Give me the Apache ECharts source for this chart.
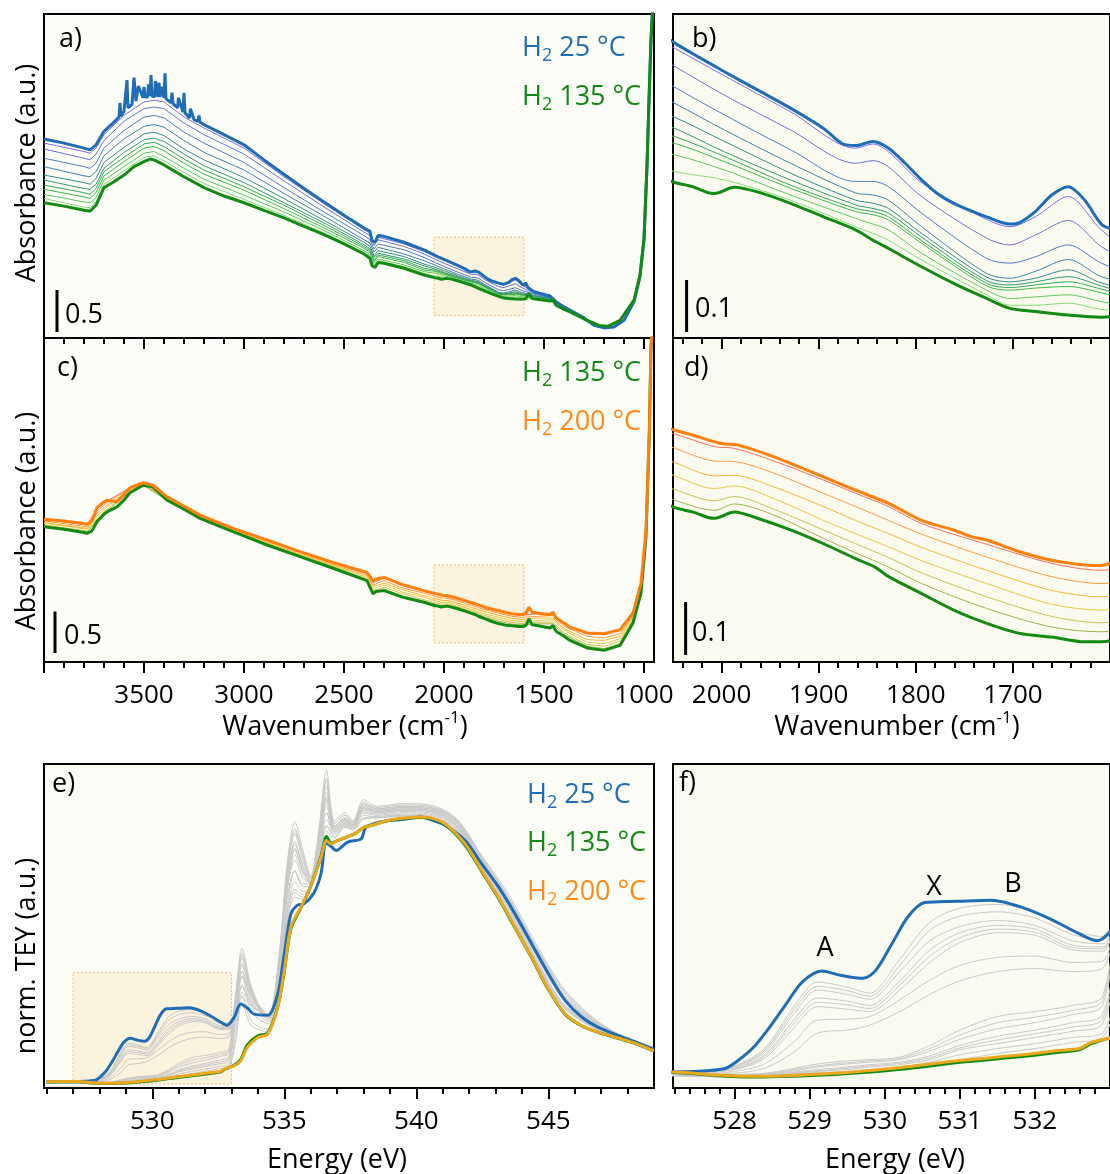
<!DOCTYPE html>
<html><head><meta charset="utf-8">
<script src="https://cdn.jsdelivr.net/npm/echarts@6/dist/echarts.min.js"></script>
<style>html,body{margin:0;padding:0;background:#fff}#c{width:1110px;height:1174px}</style>
</head><body><div id="c"></div>
<script>
// ---------- Panels a/b : H2 25 °C -> 135 °C (absorbance) ----------
const WN_AB_BLUE = [4000,3900,3800,3770,3740,3700,3650,3625,3620,3615,3600,3590,3585,3580,3560,3550,3540,3532,3528,3505,3500,3495,3482,3478,3470,3465,3460,3447,3443,3430,3425,3420,3412,3408,3400,3395,3390,3365,3360,3355,3332,3328,3305,3300,3295,3272,3268,3250,3230,3225,3220,3200,
 3100,3000,2900,2800,2700,2600,2500,2400,2370,2360,2345,2330,2300,2200,2100,2048,2030,1997,1963,1929,1895,1875,1862,1844,1828,1811,1794,1778,1761,1727,1703,1693,1677,1660,1643,1626,1609,1598,1592,1580,1550,1470,1460,1440,1400,1300,1250,1200,1150,1100,1050,1020,1000,985,975,965,955];
const ABS_AB_BLUE = [2.37,2.32,2.26,2.24,2.30,2.46,2.57,2.63,2.80,2.64,2.70,2.72,3.07,2.74,2.78,3.10,2.82,2.84,3.00,2.86,2.99,2.87,2.87,3.02,2.88,3.13,2.88,2.87,3.06,2.87,3.04,2.87,2.86,2.99,2.86,3.15,2.85,2.80,2.92,2.79,2.74,2.86,2.69,2.92,2.68,2.62,2.73,2.60,2.58,2.65,2.57,2.54,
 2.42,2.30,2.12,1.95,1.78,1.62,1.46,1.31,1.27,1.16,1.14,1.22,1.21,1.14,1.05,0.987,0.967,0.932,0.897,0.862,0.823,0.793,0.790,0.798,0.785,0.756,0.724,0.698,0.679,0.653,0.639,0.642,0.663,0.695,0.711,0.685,0.639,0.63,0.66,0.60,0.55,0.50,0.49,0.43,0.37,0.24,0.15,0.12,0.13,0.21,0.43,0.73,1.17,2.04,2.83,3.55,4.0];
const WN_AB_GREEN = [4000,3900,3800,3770,3740,3700,3650,3600,3550,3500,3470,3450,3400,3350,3300,3200,3100,3000,2900,2800,2700,2600,2500,2400,2370,2360,2345,2330,2300,2200,2100,2048,2030,2013,2007,1987,1963,1929,1895,1862,1844,1828,1794,1761,1727,1703,1677,1643,1609,1590,1575,1560,1535,1470,1455,1440,1400,1370,1285,1225,1180,1120,1050,1020,1000,985,975,965,955];
const ABS_AB_GREEN = [1.61,1.57,1.52,1.51,1.58,1.79,1.86,1.94,2.04,2.10,2.13,2.12,2.06,1.99,1.92,1.79,1.69,1.61,1.52,1.43,1.33,1.23,1.12,1.00,0.95,0.86,0.84,0.90,0.89,0.83,0.75,0.719,0.711,0.699,0.698,0.710,0.701,0.679,0.653,0.628,0.608,0.592,0.557,0.525,0.496,0.477,0.471,0.464,0.460,0.47,0.53,0.47,0.46,0.44,0.45,0.39,0.34,0.31,0.21,0.15,0.14,0.21,0.45,0.75,1.18,2.05,2.83,3.55,4.0];
const WN_AB_THIN = [4000,3800,3770,3740,3700,3600,3500,3450,3400,3300,3200,3000,2800,2600,2400,2370,2350,2330,2200,2100,2048,1997,1929,1862,1844,1828,1794,1727,1703,1677,1643,1609,1550,1460,1400,1300,1200,1100];
const ABS_AB_THIN = [
 [2.32,2.22,2.20,2.26,2.42,2.65,2.81,2.83,2.81,2.63,2.50,2.26,1.92,1.60,1.29,1.25,1.13,1.20,1.12,1.03,0.977,0.924,0.855,0.785,0.793,0.778,0.719,0.648,0.634,0.653,0.692,0.628,0.545,0.487,0.368,0.238,0.125,0.21],
 [2.25,2.14,2.12,2.19,2.35,2.58,2.73,2.75,2.73,2.56,2.42,2.19,1.87,1.56,1.26,1.22,1.10,1.17,1.09,1.00,0.942,0.887,0.82,0.756,0.761,0.749,0.692,0.612,0.599,0.618,0.646,0.596,0.536,0.482,0.365,0.237,0.126,0.21],
 [2.14,2.04,2.02,2.08,2.26,2.47,2.63,2.65,2.62,2.45,2.32,2.09,1.79,1.50,1.22,1.17,1.06,1.12,1.05,0.96,0.902,0.849,0.782,0.721,0.721,0.711,0.66,0.573,0.564,0.576,0.599,0.564,0.523,0.475,0.361,0.236,0.127,0.21],
 [2.04,1.93,1.92,1.98,2.17,2.37,2.52,2.54,2.51,2.35,2.21,2.00,1.72,1.45,1.17,1.13,1.02,1.08,1.00,0.92,0.871,0.82,0.756,0.699,0.695,0.685,0.634,0.544,0.535,0.548,0.571,0.538,0.51,0.468,0.357,0.235,0.128,0.21],
 [1.94,1.85,1.83,1.90,2.09,2.27,2.43,2.45,2.41,2.25,2.12,1.91,1.66,1.40,1.14,1.09,0.98,1.04,0.97,0.88,0.844,0.798,0.737,0.685,0.679,0.669,0.621,0.537,0.528,0.535,0.551,0.526,0.50,0.462,0.353,0.234,0.129,0.21],
 [1.88,1.78,1.77,1.83,2.02,2.21,2.36,2.38,2.34,2.19,2.05,1.85,1.61,1.37,1.11,1.06,0.96,1.01,0.94,0.86,0.823,0.778,0.724,0.676,0.669,0.66,0.614,0.53,0.522,0.528,0.538,0.52,0.49,0.457,0.35,0.233,0.13,0.21],
 [1.82,1.73,1.71,1.78,1.98,2.15,2.31,2.33,2.28,2.13,2.00,1.80,1.58,1.34,1.09,1.04,0.93,0.99,0.92,0.83,0.807,0.769,0.714,0.669,0.663,0.653,0.607,0.525,0.517,0.522,0.528,0.514,0.485,0.454,0.348,0.233,0.132,0.21],
 [1.77,1.68,1.66,1.73,1.93,2.10,2.26,2.28,2.23,2.08,1.95,1.76,1.54,1.31,1.07,1.02,0.91,0.97,0.90,0.81,0.794,0.759,0.708,0.663,0.657,0.647,0.602,0.52,0.512,0.516,0.519,0.507,0.48,0.45,0.346,0.232,0.134,0.21],
 [1.71,1.62,1.61,1.67,1.88,2.04,2.20,2.22,2.16,2.02,1.89,1.70,1.50,1.28,1.04,0.99,0.89,0.94,0.87,0.79,0.772,0.743,0.695,0.65,0.639,0.628,0.583,0.512,0.496,0.499,0.503,0.49,0.47,0.446,0.344,0.231,0.136,0.21],
 [1.66,1.56,1.55,1.62,1.83,1.99,2.15,2.17,2.11,1.97,1.84,1.65,1.46,1.25,1.02,0.97,0.87,0.92,0.85,0.77,0.74,0.724,0.685,0.634,0.621,0.608,0.57,0.503,0.483,0.483,0.487,0.475,0.465,0.443,0.342,0.23,0.138,0.21]
];
// ---------- Panels c/d : H2 135 °C -> 200 °C ----------
const WN_CD_ORANGE = [4000,3900,3800,3785,3760,3735,3700,3685,3660,3635,3600,3570,3505,3455,3385,3300,3220,3055,2885,2720,2555,2385,2370,2355,2340,2300,2205,2100,2048,2030,2000,1983,1946,1895,1862,1828,1794,1761,1744,1727,1693,1660,1626,1609,1590,1575,1560,1535,1470,1455,1440,1400,1370,1285,1200,1120,1055,1015,990,973,965,955];
const ABS_CD_ORANGE = [1.72,1.70,1.67,1.66,1.70,1.86,1.93,1.95,1.94,1.93,2.02,2.10,2.16,2.13,1.99,1.88,1.77,1.61,1.47,1.33,1.20,1.08,1.03,0.97,1.00,1.02,0.93,0.86,0.827,0.818,0.802,0.799,0.777,0.739,0.714,0.689,0.657,0.639,0.627,0.620,0.598,0.582,0.573,0.572,0.59,0.66,0.60,0.59,0.57,0.60,0.53,0.47,0.42,0.35,0.34,0.39,0.59,0.95,1.59,2.80,3.80,4.1];
const WN_CD_GREEN = [4000,3900,3800,3785,3760,3735,3700,3685,3635,3600,3570,3505,3455,3385,3300,3220,3055,2885,2720,2555,2385,2370,2355,2340,2300,2205,2100,2048,2030,2013,2007,1987,1963,1929,1895,1862,1842,1828,1794,1761,1727,1693,1660,1626,1609,1590,1575,1560,1535,1470,1455,1440,1400,1370,1285,1200,1120,1055,1015,990,973,965,955];
const ABS_CD_GREEN = [1.63,1.60,1.56,1.55,1.58,1.69,1.78,1.81,1.87,1.95,2.04,2.13,2.11,1.95,1.84,1.73,1.57,1.41,1.27,1.13,0.98,0.90,0.82,0.85,0.86,0.78,0.72,0.681,0.673,0.662,0.661,0.673,0.661,0.639,0.613,0.585,0.569,0.551,0.519,0.488,0.463,0.444,0.437,0.428,0.428,0.44,0.52,0.45,0.44,0.41,0.44,0.37,0.31,0.26,0.17,0.14,0.20,0.47,0.83,1.51,2.80,3.80,4.1];
const WN_CD_THIN = [4000,3785,3735,3685,3570,3505,3385,3220,3055,2885,2720,2555,2385,2355,2300,2205,2100,2048,2007,1987,1946,1895,1862,1828,1794,1727,1660,1609,1535,1455,1400,1285,1200,1120,1055,1015];
const ABS_CD_THIN = [
 [1.72,1.65,1.85,1.94,2.10,2.16,1.99,1.77,1.61,1.47,1.33,1.20,1.08,0.96,1.01,0.92,0.85,0.820,0.796,0.793,0.769,0.733,0.708,0.683,0.651,0.612,0.576,0.563,0.58,0.59,0.46,0.34,0.33,0.38,0.58,0.94],
 [1.70,1.63,1.82,1.92,2.09,2.15,1.98,1.76,1.60,1.46,1.32,1.18,1.06,0.93,0.98,0.89,0.83,0.793,0.769,0.768,0.746,0.708,0.683,0.657,0.631,0.588,0.551,0.538,0.55,0.56,0.43,0.31,0.29,0.34,0.56,0.92],
 [1.68,1.61,1.79,1.89,2.07,2.15,1.97,1.75,1.59,1.44,1.30,1.17,1.04,0.91,0.95,0.87,0.80,0.766,0.741,0.742,0.720,0.683,0.657,0.632,0.606,0.563,0.525,0.513,0.53,0.53,0.40,0.27,0.26,0.31,0.54,0.90],
 [1.67,1.60,1.76,1.87,2.06,2.14,1.97,1.75,1.59,1.43,1.29,1.16,1.02,0.88,0.93,0.84,0.78,0.741,0.717,0.722,0.698,0.657,0.632,0.607,0.581,0.538,0.499,0.488,0.50,0.51,0.38,0.24,0.22,0.28,0.52,0.88],
 [1.65,1.58,1.73,1.84,2.05,2.14,1.96,1.74,1.58,1.42,1.28,1.15,1.00,0.86,0.90,0.82,0.75,0.715,0.694,0.702,0.678,0.639,0.613,0.587,0.558,0.513,0.476,0.464,0.48,0.48,0.35,0.21,0.19,0.25,0.50,0.86],
 [1.64,1.56,1.71,1.82,2.05,2.13,1.95,1.73,1.57,1.42,1.28,1.14,0.99,0.84,0.88,0.79,0.73,0.695,0.676,0.688,0.667,0.623,0.596,0.569,0.538,0.491,0.456,0.447,0.46,0.46,0.33,0.19,0.16,0.22,0.48,0.84]
];
// ---------- Panels e/f : O K-edge (norm. TEY) ----------
const EV_BLUE = [526.0,527.23,527.62,527.88,528.05,528.26,528.47,528.69,528.90,529.16,529.41,529.71,529.88,530.10,530.31,530.53,530.95,531.42,531.81,532.23,532.58,532.83,533.1,533.35,533.6,533.85,534.37,534.75,534.98,535.25,535.5,535.74,536.12,536.39,536.58,536.77,536.96,537.40,537.91,538.10,538.92,539.31,540.19,540.57,541.08,541.84,542.47,543.11,543.74,544.37,545.0,545.64,546.27,546.91,548.18,549.0];
const TEY_BLUE = [0.000,0.002,0.004,0.008,0.021,0.043,0.075,0.113,0.148,0.166,0.159,0.154,0.167,0.211,0.254,0.277,0.279,0.281,0.270,0.249,0.227,0.215,0.245,0.295,0.280,0.257,0.253,0.333,0.473,0.637,0.670,0.675,0.716,0.790,0.905,0.893,0.877,0.909,0.921,0.966,0.991,0.993,1.004,0.993,0.973,0.916,0.827,0.739,0.636,0.523,0.410,0.308,0.245,0.206,0.156,0.124];
const EV_OG = [526.0,527.19,527.76,528.26,529.33,530.18,531.04,531.83,532.32,532.59,532.75,533.08,533.35,533.6,534.0,534.37,534.75,534.98,535.25,535.63,535.99,536.39,536.6,536.77,537.02,537.65,538.03,538.29,538.92,539.56,540.19,540.57,541.08,541.84,542.47,543.11,543.74,544.37,545.0,545.64,546.27,546.91,548.18,549.0];
const TEY_ORANGE = [0.001,0.002,-0.003,-0.005,0.000,0.009,0.021,0.030,0.037,0.040,0.050,0.060,0.080,0.131,0.168,0.181,0.283,0.410,0.587,0.663,0.739,0.850,0.915,0.902,0.915,0.940,0.966,0.972,0.991,1.000,1.004,1.000,0.979,0.903,0.802,0.700,0.586,0.472,0.352,0.258,0.213,0.188,0.150,0.118];
const TEY_GREEN = [0.000,0.001,-0.004,-0.006,-0.002,0.006,0.018,0.027,0.034,0.038,0.048,0.062,0.085,0.140,0.175,0.185,0.285,0.405,0.580,0.660,0.740,0.855,0.930,0.905,0.915,0.940,0.966,0.972,0.990,0.998,1.002,0.998,0.976,0.898,0.798,0.696,0.583,0.470,0.350,0.256,0.212,0.187,0.149,0.117];
const EV_GRAY = [526.0,527.5,528.0,528.4,528.8,529.1,529.5,529.8,530.2,530.6,531.0,531.5,532.0,532.5,532.9,533.15,533.4,533.7,534.0,534.4,534.8,535.1,535.4,535.7,536.0,536.3,536.6,536.9,537.3,537.6,538.0,538.5,539.5,540.5,541.5,542.5,543.5,544.5,545.5,546.5,547.5,549.0];
const TEY_GRAY = [
 [0.000,0.002,0.012,0.040,0.110,0.148,0.140,0.130,0.185,0.245,0.268,0.274,0.262,0.232,0.222,0.26,0.32,0.29,0.27,0.255,0.36,0.60,0.72,0.70,0.73,0.84,0.97,0.94,0.97,0.96,1.00,1.00,1.01,1.005,0.96,0.80,0.64,0.46,0.29,0.215,0.172,0.12],
 [0.000,0.001,0.011,0.037,0.104,0.141,0.134,0.125,0.175,0.232,0.255,0.262,0.252,0.225,0.217,0.265,0.34,0.30,0.27,0.25,0.38,0.63,0.76,0.72,0.735,0.855,0.995,0.945,0.975,0.962,1.01,1.005,1.015,1.01,0.965,0.805,0.648,0.468,0.298,0.22,0.173,0.12],
 [0.000,0.001,0.010,0.034,0.098,0.135,0.128,0.120,0.165,0.215,0.238,0.248,0.240,0.215,0.210,0.27,0.36,0.31,0.27,0.25,0.40,0.66,0.80,0.74,0.74,0.87,1.02,0.95,0.98,0.965,1.02,1.01,1.02,1.015,0.97,0.81,0.655,0.475,0.305,0.225,0.175,0.121],
 [0.000,0.000,0.008,0.030,0.088,0.122,0.117,0.110,0.150,0.200,0.228,0.240,0.234,0.208,0.205,0.28,0.40,0.33,0.28,0.25,0.42,0.72,0.86,0.79,0.75,0.89,1.06,0.96,0.99,0.97,1.03,1.02,1.03,1.025,0.98,0.82,0.67,0.49,0.32,0.235,0.178,0.122],
 [0.000,0.000,0.007,0.027,0.082,0.115,0.111,0.105,0.143,0.190,0.220,0.234,0.229,0.204,0.202,0.29,0.42,0.34,0.285,0.248,0.43,0.74,0.885,0.805,0.755,0.90,1.08,0.965,0.995,0.972,1.038,1.025,1.035,1.03,0.985,0.828,0.678,0.498,0.328,0.24,0.18,0.122],
 [0.000,0.000,0.006,0.024,0.075,0.108,0.104,0.100,0.135,0.180,0.212,0.228,0.224,0.200,0.198,0.30,0.44,0.35,0.29,0.245,0.44,0.76,0.91,0.82,0.76,0.91,1.10,0.97,1.00,0.975,1.045,1.03,1.04,1.035,0.99,0.835,0.685,0.505,0.335,0.245,0.182,0.123],
 [0.000,-0.002,0.003,0.015,0.052,0.086,0.088,0.092,0.119,0.151,0.175,0.188,0.190,0.180,0.182,0.32,0.48,0.37,0.29,0.245,0.46,0.80,0.95,0.86,0.77,0.93,1.14,0.98,1.01,0.98,1.055,1.035,1.045,1.04,0.995,0.845,0.695,0.515,0.35,0.25,0.185,0.124],
 [0.000,-0.003,0.000,0.008,0.035,0.065,0.070,0.078,0.100,0.128,0.150,0.165,0.170,0.165,0.170,0.30,0.45,0.35,0.28,0.24,0.43,0.76,0.90,0.82,0.76,0.90,1.08,0.97,1.00,0.975,1.04,1.03,1.04,1.035,0.99,0.84,0.69,0.51,0.34,0.245,0.182,0.123],
 [0.000,-0.002,-0.002,0.000,0.008,0.015,0.020,0.022,0.026,0.045,0.070,0.092,0.100,0.110,0.125,0.33,0.506,0.38,0.30,0.25,0.48,0.82,0.986,0.88,0.78,0.95,1.18,0.99,1.02,0.99,1.07,1.045,1.055,1.05,1.00,0.855,0.71,0.53,0.365,0.26,0.19,0.125],
 [0.000,-0.002,-0.002,-0.001,0.006,0.012,0.017,0.020,0.024,0.040,0.062,0.082,0.091,0.102,0.118,0.31,0.49,0.37,0.295,0.248,0.465,0.80,0.96,0.86,0.775,0.935,1.15,0.98,1.01,0.985,1.06,1.04,1.05,1.045,0.995,0.85,0.70,0.52,0.358,0.255,0.188,0.124],
 [0.000,-0.003,-0.003,-0.002,0.004,0.010,0.015,0.018,0.022,0.036,0.055,0.072,0.082,0.095,0.110,0.30,0.47,0.36,0.29,0.245,0.45,0.78,0.94,0.84,0.77,0.92,1.12,0.97,1.00,0.98,1.05,1.035,1.045,1.04,0.99,0.845,0.695,0.515,0.35,0.25,0.185,0.123],
 [0.000,-0.004,-0.004,-0.003,0.002,0.006,0.010,0.014,0.018,0.028,0.045,0.060,0.070,0.082,0.095,0.26,0.42,0.32,0.27,0.235,0.42,0.74,0.88,0.80,0.76,0.90,1.07,0.96,0.99,0.975,1.035,1.025,1.035,1.03,0.98,0.83,0.68,0.50,0.335,0.24,0.18,0.122],
 [0.000,-0.004,-0.004,-0.003,0.001,0.004,0.008,0.012,0.016,0.025,0.041,0.054,0.064,0.075,0.088,0.24,0.40,0.30,0.255,0.228,0.40,0.715,0.84,0.775,0.755,0.89,1.045,0.955,0.985,0.972,1.028,1.02,1.03,1.025,0.975,0.822,0.67,0.492,0.328,0.235,0.178,0.121],
 [0.000,-0.004,-0.005,-0.004,0.000,0.003,0.006,0.010,0.014,0.022,0.038,0.048,0.058,0.068,0.080,0.22,0.37,0.28,0.24,0.22,0.38,0.69,0.80,0.75,0.75,0.88,1.02,0.95,0.98,0.97,1.02,1.015,1.025,1.02,0.97,0.815,0.66,0.485,0.32,0.23,0.176,0.121],
 [0.000,-0.005,-0.005,-0.004,-0.001,0.001,0.003,0.006,0.010,0.018,0.030,0.040,0.048,0.058,0.065,0.18,0.33,0.24,0.21,0.20,0.34,0.64,0.73,0.71,0.74,0.85,0.97,0.93,0.97,0.96,1.00,1.005,1.01,1.005,0.955,0.80,0.64,0.465,0.30,0.22,0.172,0.12],
 [0.000,-0.005,-0.006,-0.005,-0.002,0.000,0.002,0.004,0.007,0.013,0.022,0.032,0.040,0.050,0.058,0.15,0.30,0.22,0.20,0.19,0.32,0.60,0.70,0.69,0.735,0.84,0.95,0.925,0.965,0.955,0.995,1.002,1.005,1.002,0.95,0.798,0.636,0.46,0.295,0.218,0.171,0.119]
];
// ---------- tick labels ----------
const TICKS_WN = [1000,1500,2000,2500,3000,3500,4000];
const LABELS_WN = [1000,1500,2000,2500,3000,3500];
const TICKS_WN_ZOOM = [1700,1800,1900,2000];
const TICKS_EV = [530,535,540,545];
const TICKS_EV_ZOOM = [528,529,530,531,532];
const SCALE_AC = 0.5, SCALE_BD = 0.1;

const FONT = 'Open Sans';
const FS = 27, FS_TICK = 26;
const C_BLUE = '#1f6db5', C_GREEN = '#138a13', C_ORANGE = '#ff7f0e', C_GOLD = '#eba81e', C_GRAY = '#c9c9c9', C_ORTEXT = '#ff8a1a';
const THIN_AB_COLORS = ['#7a6cf0','#6672dc','#4f7cc4','#3f84a8','#348c8c','#2f9a6e','#34a856','#3cb844','#5cc95c','#86dd78'];
const THIN_CD_COLORS = ['#f87058','#ff9a45','#f5b535','#e6c845','#c9c251','#9cb44a'];

const pairs = (xs, ys) => xs.map((x, i) => [x, ys[i]]);
const range = (a, b, s) => { const r = []; for (let v = a; v <= b + 1e-9; v += s) r.push(Math.round(v * 100) / 100); return r; };
const series = [];
function addLine(g, xs, ys, color, width, z, smooth) {
  series.push({type:'line', xAxisIndex:2*g, yAxisIndex:g, data:pairs(xs, ys), symbol:'none', showSymbol:false,
    smooth:smooth||false, lineStyle:{color, width}, z, silent:true, animation:false, clip:true});
}
const BOX_STYLE = {color:'rgba(250,226,180,0.38)', borderColor:'#f0b878', borderWidth:1, borderType:[2,2]};
function addBar(g, x, y0, h, box) {
  const s = {type:'line', xAxisIndex:2*g, yAxisIndex:g, data:[[x,y0],[x,y0+h]], symbol:'none', lineStyle:{color:'#000', width:3}, z:5, silent:true, animation:false};
  if (box) s.markArea = {silent:true, itemStyle:BOX_STYLE, data:[[{coord:box[0]},{coord:box[1]}]]};
  series.push(s);
}
[0,1].forEach(g => {
  const sm = g === 1 ? 0.3 : false;
  ABS_AB_THIN.forEach((ys, i) => addLine(g, WN_AB_THIN, ys, THIN_AB_COLORS[i], 1, 2, sm));
  addLine(g, WN_AB_BLUE, ABS_AB_BLUE, C_BLUE, 3, 3, sm);
  addLine(g, WN_AB_GREEN, ABS_AB_GREEN, C_GREEN, 3, 3, sm);
});
addBar(0, 3935, 0.071, SCALE_AC, [[2050,1.20],[1600,0.27]]);
addBar(1, 2036, 0.4315, SCALE_BD);
[2,3].forEach(g => {
  const sm = g === 3 ? 0.3 : false;
  ABS_CD_THIN.forEach((ys, i) => addLine(g, WN_CD_THIN, ys, THIN_CD_COLORS[i], 1, 2, sm));
  addLine(g, WN_CD_GREEN, ABS_CD_GREEN, C_GREEN, 3, 3, sm);
  addLine(g, WN_CD_ORANGE, ABS_CD_ORANGE, C_ORANGE, 3, 3, sm);
});
addBar(2, 3945, 0.108, SCALE_AC, [[2050,1.17],[1600,0.23]]);
addBar(3, 2037, 0.403, SCALE_BD);
[4,5].forEach(g => {
  TEY_GRAY.forEach(ys => addLine(g, EV_GRAY, ys, C_GRAY, 1, 2, 0.3));
  addLine(g, EV_BLUE, TEY_BLUE, C_BLUE, 3, 3, 0.3);
  addLine(g, EV_OG, TEY_GREEN, C_GREEN, 3, 3, 0.3);
  addLine(g, EV_OG, TEY_ORANGE, C_GOLD, 3, 4, 0.3);
});
series.push({type:'line', xAxisIndex:8, yAxisIndex:4, data:[[527,-0.008],[527,-0.008]], symbol:'none', lineStyle:{opacity:0}, z:1, silent:true, animation:false,
  markArea:{silent:true, itemStyle:BOX_STYLE, data:[[{coord:[527,0.414]},{coord:[533,-0.008]}]]}});

const gridBase = {show:true, borderColor:'#000', borderWidth:2, containLabel:false};
const BG1 = '#fdfdf8', BG2 = '#fbfaef';
const grids = [
  Object.assign({left:44, top:14, width:610, height:324, backgroundColor:BG1}, gridBase),
  Object.assign({left:673, top:14, width:446, height:324, backgroundColor:BG2}, gridBase),
  Object.assign({left:44, top:338, width:610, height:324, backgroundColor:BG1}, gridBase),
  Object.assign({left:673, top:338, width:446, height:324, backgroundColor:BG2}, gridBase),
  Object.assign({left:44, top:764, width:610, height:324, backgroundColor:BG1}, gridBase),
  Object.assign({left:673, top:764, width:454, height:324, backgroundColor:BG2}, gridBase)
];
const xRanges = [[950,4000,true],[1600,2050,true],[950,4000,true],[1600,2050,true],[525.9,549.0,false],[527.18,533.0,false]];
const majors = [TICKS_WN, TICKS_WN_ZOOM, TICKS_WN, TICKS_WN_ZOOM, TICKS_EV, TICKS_EV_ZOOM];
const labels = [null, null, LABELS_WN, TICKS_WN_ZOOM, TICKS_EV, TICKS_EV_ZOOM];
const minors = [
  range(1000,3900,100), range(1620,2040,20), range(1000,3900,100), range(1620,2040,20), range(526,548,1), range(527.2,532.8,0.2)
].map((m, i) => m.filter(v => !majors[i].some(t => Math.abs(t - v) < 1e-6)));
const xAxes = [];
for (let g = 0; g < 6; g++) {
  const [mn, mx, inv] = xRanges[g];
  xAxes.push({type:'value', gridIndex:g, min:mn, max:mx, inverse:inv, position:'bottom',
    axisLine:{show:false, onZero:false}, splitLine:{show:false},
    axisTick:{show:true, inside:false, length:11, customValues:majors[g], lineStyle:{color:'#000', width:2}},
    axisLabel: labels[g] ? {show:true, customValues:labels[g], margin:21, fontSize:FS_TICK, fontFamily:FONT, color:'#000', formatter:(v) => String(v)} : {show:false}
  });
  xAxes.push({type:'value', gridIndex:g, min:mn, max:mx, inverse:inv, position:'bottom', offset:0,
    axisLine:{show:false, onZero:false}, splitLine:{show:false}, axisLabel:{show:false},
    axisTick:{show:true, inside:false, length:6, customValues:minors[g], lineStyle:{color:'#000', width:2}}
  });
}
const yRanges = [[0,3.857],[0.42,1.043],[0,3.904],[0.39,1.001],[-0.023,1.205],[-0.024,0.502]];
const yAxes = yRanges.map((r, g) => ({type:'value', gridIndex:g, min:r[0], max:r[1], show:false, splitLine:{show:false}}));

const subRich = {s:{fontSize:18, lineHeight:18, verticalAlign:'bottom', fontFamily:FONT}, p:{fontSize:17, lineHeight:17, verticalAlign:'top', fontFamily:FONT}};
function txt(text, x, y, color, extra) {
  return Object.assign({type:'text', x, y, z:100, silent:true,
    style:{text, fill:color || '#000', fontSize:FS, fontFamily:FONT, lineHeight:34, align:'left', verticalAlign:'middle', rich:subRich}}, extra || {});
}
function ctr(el) { el.style.align = 'center'; return el; }
const ROT = {rotation: Math.PI/2};
const graphics = [
  txt('a)', 59, 39), txt('b)', 692, 39), txt('c)', 57, 368), txt('d)', 684, 368), txt('e)', 52, 784), txt('f)', 679, 783),
  txt('H{s|2} 25 °C', 522, 48, C_BLUE), txt('H{s|2} 135 °C', 522, 97, C_GREEN),
  txt('H{s|2} 135 °C', 522, 373, C_GREEN), txt('H{s|2} 200 °C', 522, 422, C_ORTEXT),
  txt('H{s|2} 25 °C', 527, 795, C_BLUE), txt('H{s|2} 135 °C', 527, 843, C_GREEN), txt('H{s|2} 200 °C', 527, 892, C_ORTEXT),
  txt('0.5', 65, 315), txt('0.1', 695, 309), txt('0.5', 64, 636), txt('0.1', 692, 633),
  ctr(txt('A', 825, 948)), ctr(txt('X', 934, 887)), ctr(txt('B', 1013, 884)),
  ctr(txt('Wavenumber (cm{p|-1})', 345, 727)),
  ctr(txt('Wavenumber (cm{p|-1})', 897, 727)),
  ctr(txt('Energy (eV)', 337, 1160)),
  ctr(txt('Energy (eV)', 895, 1160)),
  ctr(txt('Absorbance (a.u.)', 27, 173, '#000', ROT)),
  ctr(txt('Absorbance (a.u.)', 27, 521, '#000', ROT)),
  ctr(txt('norm. TEY (a.u.)', 27, 956, '#000', ROT))
];

const chart = echarts.init(document.getElementById('c'), null, {renderer:'canvas'});
chart.setOption({animation:false, backgroundColor:'#ffffff', grid:grids, xAxis:xAxes, yAxis:yAxes, series, graphic:graphics});
</script></body></html>
